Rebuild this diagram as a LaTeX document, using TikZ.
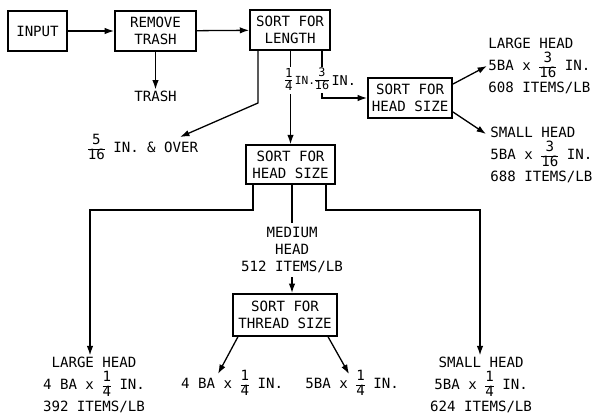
\documentclass[tikz,border=0pt]{standalone}
\usepackage{amsmath}
\usepackage{fontspec}
\setmainfont{DejaVu Sans Mono}
\usepackage{tikz}
\usetikzlibrary{arrows.meta, positioning}
\newcommand{\infr}[3][12]{{\fontsize{#1}{#1}\selectfont\renewcommand\arraystretch{0.9}\setlength\arrayrulewidth{0.6pt}\begin{tabular}{@{}c@{}}#2\\\hline #3\end{tabular}}}

\begin{document}
\begin{tikzpicture}[x=0.85pt, y=-0.85pt,
every node/.style={font=\fontsize{12}{14.5}\selectfont, align=center},
stage/.style={rectangle, draw, line width=1.4pt, inner sep=2pt, minimum height=34pt},
result/.style={inner sep=1pt, font=\fontsize{12}{19}\selectfont},
cut/.style={fill=white, inner sep=0.5pt, label={[inner sep=0.5pt, font=\fontsize{#1}{12}\selectfont]right:IN.}},
cut/.default=9.5,
arrow/.style={-{Latex[length=8pt, width=5.5pt]}, line width=1.1pt},
link/.style={line width=1.1pt}
]
\useasboundingbox (0,0) rectangle (592,419);
% Sorting stages
\node[stage, minimum width=50pt] (input) at (37.5,31) {INPUT};
\node[stage, minimum width=69pt] (remove) at (155.5,31) {REMOVE\\TRASH};
\node[stage, minimum width=68pt] (length) at (290,30) {SORT FOR\\LENGTH};
\node[stage, minimum width=71.5pt] (headR) at (410,98) {SORT FOR\\HEAD SIZE};
\node[stage, minimum width=75.5pt, minimum height=33pt] (headM) at (290.5,164.5) {SORT FOR\\HEAD SIZE};
\node[stage, minimum width=88pt, minimum height=36pt] (thread) at (285,315) {SORT FOR\\THREAD SIZE};
% Outputs
\node[result, below=32pt of remove] (trash) {TRASH};
\node[result] (over) at (143,149) {\infr{5}{16} IN. \& OVER};
\node[result, anchor=west, align=left] (largeR) at (487,66) {LARGE HEAD\\5BA x \infr{3}{16} IN.\\608 ITEMS/LB};
\node[result, anchor=west, align=left] (smallR) at (489,155) {SMALL HEAD\\5BA x \infr{3}{16} IN.\\688 ITEMS/LB};
\node (medium) at (292,250) {MEDIUM\\HEAD\\512 ITEMS/LB};
\node[result] (largeL) at (94,385) {LARGE HEAD\\4 BA x \infr{1}{4} IN.\\392 ITEMS/LB};
\node[result] (smallL) at (481,385) {SMALL HEAD\\5BA x \infr{1}{4} IN.\\624 ITEMS/LB};
\node[result] (four) at (232,385) {4 BA x \infr{1}{4} IN.};
\node[result] (five) at (352,385) {5BA x \infr{1}{4} IN.};
% Bends and tips
\coordinate (bendO) at (258,103);
\coordinate (tipO) at (180,137);
\coordinate (bendR) at (322,98);
\coordinate (tipS) at (486,134);
\coordinate (bendLL) at (253,210);
\coordinate (cornerLL) at (90,210);
\coordinate (bendLR) at (326,210);
\coordinate (cornerLR) at (480,210);
\coordinate (tipF) at (218,374);
\coordinate (tipV) at (349,374);
% Connectors
\draw[arrow] (input) -- (remove);
\draw[arrow] (remove) -- (length);
\draw[arrow] (remove) -- (trash);
\draw[arrow] (length.south -| bendO) -- (bendO) -- (tipO);
\draw[arrow] (length.south -| bendR) -- node[pos=0.62, cut=11.5] (eighth) {\infr[10]{3}{16}} (bendR) -- (headR.west);
\draw[arrow] (length.south -| headM.north) -- node[pos=0.32, cut, xshift=-1.5pt] (quarter) {\infr[10.5]{1}{4}} (headM.north);
\draw[arrow] (headR.18) -- (largeR.west);
\draw[arrow] (headR.-18) -- (tipS);
\draw[link] (headM.south -| medium.north) -- (medium.north);
\draw[arrow] (medium.south) -- (thread.north -| medium.south);
\draw[arrow] (headM.south -| bendLL) -- (bendLL) -- (cornerLL) -- (largeL.north -| cornerLL);
\draw[arrow] (headM.south -| bendLR) -- (bendLR) -- (cornerLR) -- (smallL.north -| cornerLR);
\draw[arrow] (thread.205) -- (tipF);
\draw[arrow] (thread.-27) -- (tipV);
\end{tikzpicture}
\end{document}
